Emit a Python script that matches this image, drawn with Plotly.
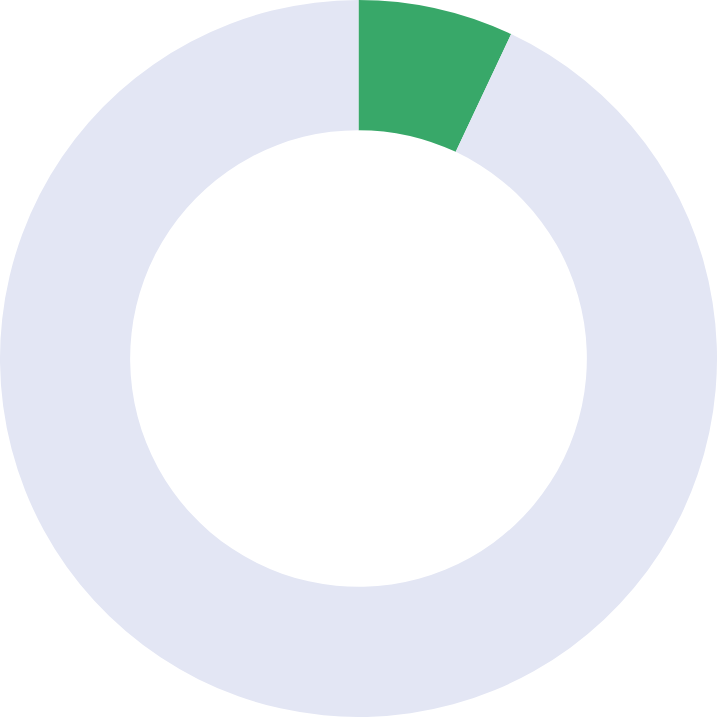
import plotly.graph_objects as go

labels = ["Done", "Remaining"]
values = [7, 93]
colors = ["#38a869", "#e3e6f4"]

fig = go.Figure(
    go.Pie(
        labels=labels,
        values=values,
        hole=0.637,
        sort=False,
        direction="clockwise",
        rotation=0,
        marker=dict(colors=colors, line=dict(width=0)),
        textinfo="none",
        hoverinfo="label+percent",
    )
)
fig.update_layout(
    width=717,
    height=717,
    margin=dict(l=0, r=0, t=0, b=0),
    showlegend=False,
    paper_bgcolor="white",
)
# page has no body margin in the reference, the donut touches the edges
fig.write_html(
    "out.html",
    config={"displayModeBar": False},
    post_script="document.body.style.margin='0';document.body.style.overflow='hidden';",
)
